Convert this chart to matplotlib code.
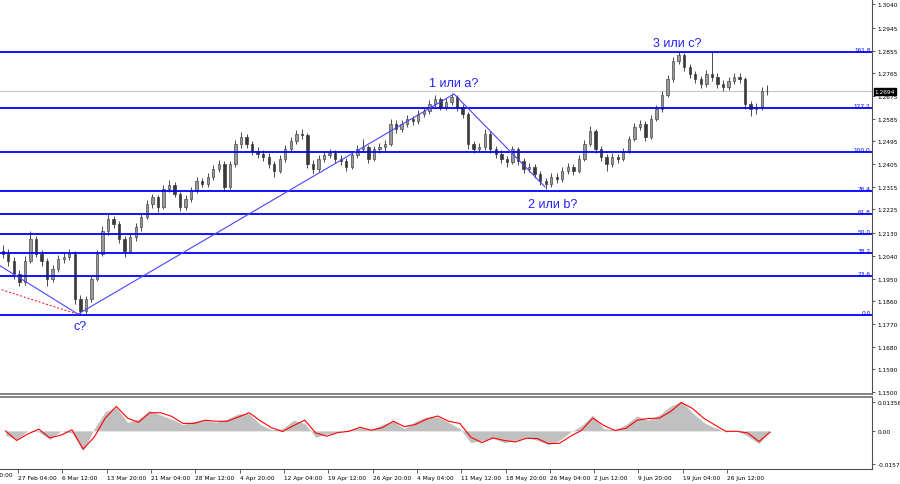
import matplotlib.pyplot as plt
import numpy as np

# GBPUSD H4, one candle here = four H4 bars
first_open = 1.2060
closes = [1.2048, 1.2020, 1.1968, 1.1936, 1.2020, 1.2107, 1.2048, 1.2020, 1.1948, 1.1988,
          1.2028, 1.2036, 1.2048, 1.1869, 1.1821, 1.1869, 1.1948, 1.2048, 1.2139, 1.2187,
          1.2167, 1.2107, 1.2060, 1.2115, 1.2155, 1.2195, 1.2246, 1.2274, 1.2234, 1.2306,
          1.2322, 1.2286, 1.2234, 1.2266, 1.2298, 1.2337, 1.2326, 1.2353, 1.2385, 1.2405,
          1.2314, 1.2405, 1.2484, 1.2512, 1.2484, 1.2457, 1.2445, 1.2433, 1.2405, 1.2377,
          1.2425, 1.2465, 1.2496, 1.2524, 1.2520, 1.2405, 1.2385, 1.2425, 1.2441, 1.2449,
          1.2425, 1.2417, 1.2393, 1.2441, 1.2465, 1.2472, 1.2425, 1.2465, 1.2472, 1.2484,
          1.2564, 1.2544, 1.2564, 1.2584, 1.2576, 1.2603, 1.2615, 1.2643, 1.2663, 1.2631,
          1.2651, 1.2671, 1.2631, 1.2603, 1.2484, 1.2465, 1.2472, 1.2524, 1.2465, 1.2445,
          1.2425, 1.2413, 1.2465, 1.2417, 1.2385, 1.2393, 1.2365, 1.2337, 1.2326, 1.2353,
          1.2345, 1.2377, 1.2393, 1.2377, 1.2425, 1.2484, 1.2536, 1.2465, 1.2433, 1.2405,
          1.2433, 1.2425, 1.2457, 1.2504, 1.2552, 1.2564, 1.2512, 1.2584, 1.2623, 1.2679,
          1.2742, 1.2814, 1.2838, 1.2790, 1.2762, 1.2742, 1.2723, 1.2762, 1.2750, 1.2723,
          1.2711, 1.2734, 1.2750, 1.2742, 1.2643, 1.2623, 1.2631, 1.2695, 1.2694]
highs = [1.2082, 1.2066, 1.2035, 1.1985, 1.2040, 1.2139, 1.2120, 1.2062, 1.2030, 1.2005,
         1.2045, 1.2055, 1.2068, 1.2060, 1.1885, 1.1882, 1.1962, 1.2065, 1.2158, 1.2206,
         1.2200, 1.2178, 1.2120, 1.2130, 1.2170, 1.2212, 1.2262, 1.2286, 1.2282, 1.2322,
         1.2340, 1.2333, 1.2295, 1.2280, 1.2312, 1.2352, 1.2348, 1.2368, 1.2400, 1.2420,
         1.2415, 1.2418, 1.2500, 1.2532, 1.2525, 1.2495, 1.2472, 1.2460, 1.2448, 1.2418,
         1.2440, 1.2480, 1.2512, 1.2538, 1.2544, 1.2530, 1.2420, 1.2440, 1.2458, 1.2465,
         1.2460, 1.2440, 1.2428, 1.2455, 1.2480, 1.2504, 1.2482, 1.2478, 1.2490, 1.2500,
         1.2584, 1.2578, 1.2578, 1.2598, 1.2595, 1.2618, 1.2630, 1.2658, 1.2679, 1.2672,
         1.2665, 1.2687, 1.2680, 1.2645, 1.2612, 1.2498, 1.2490, 1.2544, 1.2535, 1.2478,
         1.2460, 1.2438, 1.2478, 1.2472, 1.2428, 1.2410, 1.2405, 1.2378, 1.2350, 1.2368,
         1.2370, 1.2392, 1.2410, 1.2405, 1.2440, 1.2500, 1.2556, 1.2545, 1.2478, 1.2445,
         1.2448, 1.2445, 1.2470, 1.2518, 1.2568, 1.2580, 1.2575, 1.2598, 1.2640, 1.2695,
         1.2760, 1.2830, 1.2850, 1.2845, 1.2800, 1.2775, 1.2755, 1.2778, 1.2853, 1.2765,
         1.2738, 1.2750, 1.2765, 1.2768, 1.2752, 1.2655, 1.2648, 1.2712, 1.2718]
lows = [1.2030, 1.2001, 1.1950, 1.1921, 1.1925, 1.2010, 1.2035, 1.2000, 1.1921, 1.1935,
        1.1975, 1.2012, 1.2025, 1.1850, 1.1806, 1.1810, 1.1858, 1.1940, 1.2040, 1.2125,
        1.2150, 1.2090, 1.2036, 1.2050, 1.2100, 1.2140, 1.2185, 1.2232, 1.2215, 1.2225,
        1.2295, 1.2272, 1.2218, 1.2222, 1.2255, 1.2288, 1.2312, 1.2315, 1.2342, 1.2372,
        1.2298, 1.2305, 1.2395, 1.2470, 1.2470, 1.2440, 1.2430, 1.2418, 1.2390, 1.2353,
        1.2368, 1.2412, 1.2452, 1.2485, 1.2505, 1.2390, 1.2365, 1.2375, 1.2412, 1.2428,
        1.2410, 1.2400, 1.2378, 1.2385, 1.2430, 1.2452, 1.2410, 1.2415, 1.2450, 1.2455,
        1.2475, 1.2530, 1.2532, 1.2552, 1.2560, 1.2565, 1.2590, 1.2605, 1.2630, 1.2618,
        1.2620, 1.2640, 1.2615, 1.2588, 1.2465, 1.2448, 1.2452, 1.2460, 1.2450, 1.2430,
        1.2410, 1.2395, 1.2405, 1.2400, 1.2370, 1.2372, 1.2350, 1.2320, 1.2306, 1.2315,
        1.2330, 1.2332, 1.2365, 1.2362, 1.2368, 1.2415, 1.2475, 1.2450, 1.2418, 1.2377,
        1.2392, 1.2410, 1.2415, 1.2448, 1.2495, 1.2540, 1.2496, 1.2505, 1.2575, 1.2612,
        1.2670, 1.2732, 1.2800, 1.2775, 1.2748, 1.2728, 1.2705, 1.2712, 1.2735, 1.2708,
        1.2695, 1.2700, 1.2722, 1.2728, 1.2625, 1.2595, 1.2605, 1.2620, 1.2680]

# MACD histogram (grey) and signal (red), sampled every 8 H4 bars
macd_main = [-0.0020, -0.0040, 0.0000, -0.0005, -0.0040, 0.0000, -0.0010, -0.0095, 0.0010, 0.0090,
             0.0110, 0.0040, 0.0055, 0.0095, 0.0075, 0.0055, 0.0030, 0.0045, 0.0050, 0.0040,
             0.0055, 0.0080, 0.0080, 0.0030, 0.0005, 0.0010, 0.0050, 0.0035, -0.0030, -0.0015,
             -0.0005, 0.0005, 0.0015, 0.0005, 0.0030, 0.0045, 0.0010, 0.0045, 0.0065, 0.0065,
             0.0040, 0.0010, -0.0055, -0.0045, -0.0035, -0.0055, -0.0045, -0.0030, -0.0045, -0.0065,
             -0.0045, -0.0005, 0.0025, 0.0075, 0.0010, 0.0005, 0.0030, 0.0070, 0.0050, 0.0075,
             0.0115, 0.0140, 0.0085, 0.0040, 0.0015, -0.0005, 0.0000, -0.0025, -0.0060, 0.0000]
macd_signal = [0.0000, -0.0045, -0.0015, 0.0008, -0.0033, -0.0020, 0.0005, -0.0085, -0.0030, 0.0060,
               0.0115, 0.0060, 0.0040, 0.0085, 0.0085, 0.0068, 0.0035, 0.0035, 0.0050, 0.0045,
               0.0045, 0.0065, 0.0085, 0.0047, 0.0015, -0.0003, 0.0025, 0.0050, -0.0010, -0.0025,
               -0.0008, -0.0002, 0.0017, 0.0003, 0.0015, 0.0045, 0.0020, 0.0030, 0.0055, 0.0070,
               0.0045, 0.0035, -0.0030, -0.0055, -0.0033, -0.0045, -0.0052, -0.0035, -0.0036, -0.0060,
               -0.0058, -0.0025, 0.0003, 0.0060, 0.0025, 0.0002, 0.0012, 0.0050, 0.0058, 0.0060,
               0.0090, 0.0133, 0.0105, 0.0060, 0.0028, -0.0002, -0.0002, -0.0010, -0.0050, -0.0006]

# fibonacci grid
fib_levels = [0.0, 23.6, 38.2, 50.0, 61.8, 76.4, 100.0, 127.2, 161.8]
fib_low = 1.1806
fib_high = 1.2452

# wave markup (x in H4 bars)
wave_x = [0, 56.3, 327.8, 393.5]
wave_y = [1.2001, 1.1809, 1.2683, 1.2314]
red_x = [1.2, 55.6]
red_y = [1.1906, 1.1809]
wave_labels = ["с?", "1 или а?", "2 или b?", "3 или с?"]
label_x = [57.8, 327.5, 399.0, 489.0]
label_y = [1.1762, 1.2727, 1.2246, 1.2885]

price_ticks = [1.3040, 1.2945, 1.2855, 1.2765, 1.2675, 1.2585, 1.2495, 1.2405, 1.2315,
               1.2225, 1.2130, 1.2040, 1.1950, 1.1860, 1.1770, 1.1680, 1.1590, 1.1500]
last_price = 1.2694
macd_ticks = [0.01356, 0.0, -0.0157]
macd_tick_labels = ["0.01356", "0.00", "-0.0157"]

date_pos = [13, 45, 77, 109, 141, 173, 205, 237, 269, 301, 333, 365, 397, 429, 461, 493, 525]
date_labels = ["27 Feb 04:00", "6 Mar 12:00", "13 Mar 20:00", "21 Mar 04:00", "28 Mar 12:00",
               "4 Apr 20:00", "12 Apr 04:00", "19 Apr 12:00", "26 Apr 20:00", "4 May 04:00",
               "11 May 12:00", "18 May 20:00", "26 May 04:00", "2 Jun 12:00", "9 Jun 20:00",
               "19 Jun 04:00", "26 Jun 12:00"]

BARS = 4
W, H = 900, 485
PX = 1.385  # pixels per H4 bar
XMAX = 872 / PX
FS = 4.2
plt.rcParams['font.family'] = ['DejaVu Sans']

fig = plt.figure(figsize=(9, 4.85), dpi=100)
ax = fig.add_axes([0, 1 - 395 / H, 872 / W, 395 / H])
axm = fig.add_axes([0, 1 - 470 / H, 872 / W, 72 / H])

# candles
closes = np.array(closes)
opens = np.concatenate([[first_open], closes[:-1]])
xs = np.arange(len(closes)) * BARS + BARS / 2
ax.vlines(xs, lows, highs, color="#4a4a4a", lw=0.7, zorder=2)
up = closes >= opens
ax.bar(xs[up], (closes - opens)[up], bottom=opens[up], width=1.7,
       color="#9a9a9a", edgecolor="#4a4a4a", linewidth=0.5, zorder=2.5)
ax.bar(xs[~up], (opens - closes)[~up], bottom=closes[~up], width=1.7,
       color="#3a3a3a", edgecolor="#3a3a3a", linewidth=0.5, zorder=2.5)

# bid line
ax.axhline(last_price, color="#c8c8c8", lw=0.8, zorder=1)

# fibo
for lv in fib_levels:
    p = fib_low + (fib_high - fib_low) * lv / 100
    ax.axhline(p, color="#0000ff", lw=1.3, zorder=3)
    ax.text(XMAX - 1, p, f"{lv:.1f}", color="#0000ff", fontsize=FS,
            ha="right", va="bottom", zorder=4)

# wave lines
ax.plot(wave_x, wave_y, color="#4646ff", lw=0.8, zorder=3)
ax.plot(red_x, red_y, color="red", lw=0.7, ls=(0, (2, 2)), zorder=3)
for t, lx, ly in zip(wave_labels, label_x, label_y):
    ax.text(lx, ly, t, color="#2020ff", fontsize=9, ha="center", va="center",
            family="Liberation Sans", zorder=4)

ax.set_xlim(0, XMAX)
ax.set_ylim(1.3060 - 0.000397 * 395, 1.3060)
ax.yaxis.tick_right()
ax.set_yticks(price_ticks)
ax.set_yticklabels([f"{v:.4f}" for v in price_ticks])
ax.tick_params(axis="y", labelsize=FS, length=2, pad=2, color="#404040", width=0.6)
ax.set_xticks([])
for s in ["top", "left"]:
    ax.spines[s].set_visible(False)
ax.spines["right"].set_color("#505050")
ax.spines["bottom"].set_color("#707070")
ax.spines["bottom"].set_linewidth(1.2)

# current price box
ax.text(1.003, last_price, f"{last_price:.4f}", transform=ax.get_yaxis_transform(),
        fontsize=FS, color="white", ha="left", va="center", zorder=10, clip_on=False,
        bbox=dict(boxstyle="square,pad=0.15", fc="black", ec="black"))

# MACD panel
mx = np.arange(len(macd_main)) * 8 + 4
axm.fill_between(mx, 0, macd_main, color="#c0c0c0", lw=0)
axm.plot(mx, macd_signal, color="red", lw=0.8)
axm.set_xlim(0, XMAX)
axm.set_ylim(-0.0179, 0.0159)
axm.yaxis.tick_right()
axm.set_yticks(macd_ticks)
axm.set_yticklabels(macd_tick_labels)
axm.tick_params(axis="y", labelsize=FS, length=2, pad=2, color="#404040", width=0.6)
axm.set_xticks(date_pos)
axm.set_xticklabels(date_labels, ha="left")
axm.tick_params(axis="x", labelsize=FS, length=3, pad=1, color="#404040", width=0.6)
axm.spines["left"].set_visible(False)
for s in ["top", "right", "bottom"]:
    axm.spines[s].set_color("#505050")
axm.spines["top"].set_color("#707070")
axm.spines["top"].set_linewidth(1.2)

# label cut by the left edge, as in the terminal screenshot
fig.text(-26 / W, 1 - 476 / H, "17 Feb 20:00", fontsize=FS, va="center", ha="left")

fig.savefig("out.png", dpi=100, facecolor="white")
